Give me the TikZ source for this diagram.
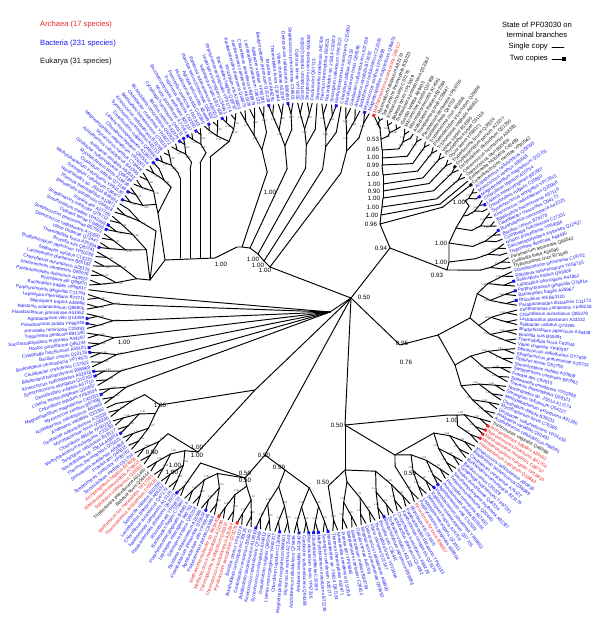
\documentclass[tikz,border=0pt]{standalone}
\usepackage{fontspec}
\setmainfont{Liberation Sans}
\usetikzlibrary{calc}

\definecolor{archred}{RGB}{240,40,40}
\definecolor{bactblue}{RGB}{25,25,240}
\definecolor{eukblack}{RGB}{20,20,20}

\tikzset{
  branch/.style={line width=0.95pt, line cap=round, line join=round},
  leaflabel/.style={inner sep=0pt, font=\fontsize{4.6}{4.6}\selectfont},
  support/.style={inner sep=0pt, font=\fontsize{6.2}{6.2}\selectfont},
  tinysup/.style={inner sep=0pt, font=\fontsize{2.5}{2.5}\selectfont, text=black!85},
  copymark/.style={fill, minimum size=2.9pt, inner sep=0pt},
  legendtext/.style={inner sep=0pt, font=\fontsize{7.6}{9.5}\selectfont}
}

\newcommand\rim{215}
\def\bactnames{{"Bacteroides fragilis","Pseudomonas putida","Burkholderia cenocepacia","Chlorobium tepidum","Clostridium difficile","Streptomyces coelicolor","Brucella suis","Rhizobium etli","Agrobacterium vitis","Bacillus cereus","Listeria monocytogenes","Mycobacterium bovis","Frankia alni","Thermobifida fusca","Parabacteroides distasonis","Flavobacterium johnsoniae","Cytophaga hutchinsonii","Desulfovibrio vulgaris","Geobacter sulfurreducens","Shewanella oneidensis","Vibrio cholerae","Xanthomonas campestris","Ralstonia solanacearum","Nostoc punctiforme","Synechococcus elongatus","Anabaena variabilis","Thermus thermophilus","Deinococcus radiodurans","Chloroflexus aurantiacus","Salinispora tropica","Saccharopolyspora erythraea","Kineococcus radiotolerans","Acidothermus cellulolyticus","Nocardioides sp. JS614","Streptococcus pneumoniae","Lactobacillus plantarum","Leptospira interrogans","Treponema denticola","Bdellovibrio bacteriovorus","Myxococcus xanthus","Sorangium cellulosum","Opitutus terrae","Solibacter usitatus","Porphyromonas gingivalis","Prevotella ruminicola","Caulobacter crescentus","Magnetospirillum magneticum","Methylobacterium extorquens","Sinorhizobium meliloti","Bradyrhizobium japonicum"}}
\def\archnames{{"Methanosarcina acetivorans","Methanococcus maripaludis","Archaeoglobus fulgidus","Pyrococcus furiosus","Thermococcus kodakarensis","Sulfolobus solfataricus","Methanospirillum hungatei","Haloarcula marismortui","Methanothermobacter sp.","Natronomonas pharaonis","Methanoculleus marisnigri","Thermoplasma acidophilum","Methanosaeta thermophila","Halobacterium salinarum","Pyrobaculum aerophilum","Aeropyrum pernix","Nitrosopumilus maritimus"}}
\def\euknames{{"Chlamydomonas reinhardtii","Arabidopsis thaliana","Oryza sativa","Physcomitrella patens","Thalassiosira pseudonana","Phaeodactylum tricornutum","Ostreococcus tauri","Plasmodium falciparum","Toxoplasma gondii","Trypanosoma brucei","Leishmania major","Giardia lamblia","Trichomonas vaginalis","Entamoeba histolytica","Tetrahymena thermophila","Paramecium tetraurelia","Cryptosporidium parvum","Naegleria gruberi","Micromonas pusilla","Volvox carteri","Cyanidioschyzon merolae","Emiliania huxleyi","Guillardia theta","Dictyostelium discoideum","Acanthamoeba castellanii","Monosiga brevicollis","Phytophthora sojae","Theileria parva","Babesia bovis","Trypanosoma cruzi","Ostreococcus lucimarinus"}}
\def\accpre{{"Q","A","B","C","YP","Q","A"}}

% colour and name list of leaf #1
\newcommand\setleafcolor[1]{%
  \def\lc{bactblue}\def\namelist{\bactnames}\def\nlen{50}%
  \ifnum#1<26 \def\lc{eukblack}\def\namelist{\euknames}\def\nlen{31}\fi
  \ifnum#1>41 \ifnum#1<45 \def\lc{eukblack}\def\namelist{\euknames}\def\nlen{31}\fi\fi
  \ifnum#1=77 \def\lc{eukblack}\def\namelist{\euknames}\def\nlen{31}\fi
  \ifnum#1>158 \ifnum#1<161 \def\lc{eukblack}\def\namelist{\euknames}\def\nlen{31}\fi\fi
  \ifnum#1=0 \def\lc{archred}\def\namelist{\archnames}\def\nlen{17}\fi
  \ifnum#1>77 \ifnum#1<83 \def\lc{archred}\def\namelist{\archnames}\def\nlen{17}\fi\fi
  \ifnum#1=100 \def\lc{archred}\def\namelist{\archnames}\def\nlen{17}\fi
  \ifnum#1>137 \ifnum#1<143 \def\lc{archred}\def\namelist{\archnames}\def\nlen{17}\fi\fi
  \ifnum#1>156 \ifnum#1<159 \def\lc{archred}\def\namelist{\archnames}\def\nlen{17}\fi\fi
  \ifnum#1>160 \ifnum#1<164 \def\lc{archred}\def\namelist{\archnames}\def\nlen{17}\fi\fi
}

% clade: #1 base node, #2..#3 leaves, #4 group size, #5 group depth, #6 fork depth
\newcommand\drawclade[6]{%
  \foreach \i in {#2,...,#3}{%
    \pgfmathtruncatemacro\pf{#2+2*floor((\i-#2)/2)}%
    \pgfmathtruncatemacro\pl{min(\pf+1,#3)}%
    \pgfmathtruncatemacro\qf{#2+4*floor((\i-#2)/4)}%
    \pgfmathtruncatemacro\ql{min(\qf+3,#3)}%
    \pgfmathtruncatemacro\gf{#2+#4*floor((\i-#2)/#4)}%
    \pgfmathtruncatemacro\gl{min(\gf+#4-1,#3)}%
    \ifnum\i=\gf
      \pgfmathsetmacro\ga{1.2903*(\gf+\gl)/2-70.5}%
      \pgfmathsetmacro\gr{\rim-#5}%
      \coordinate (gp\i) at ($(ctr)+(\ga:\gr)$);
      \draw[branch] (#1) -- (gp\i);
    \fi
    \ifnum\i=\qf
      \pgfmathsetmacro\qa{1.2903*(\qf+\ql)/2-70.5}%
      \pgfmathsetmacro\qr{\rim-#6}%
      \coordinate (qd\i) at ($(ctr)+(\qa:\qr)$);
      \draw[branch] (gp\gf) -- (qd\i);
      \ifnum\ql>\pl \node[tinysup] (sq\i) at ($(ctr)+(\qa:\qr-4)$) {1.00};\fi
    \fi
    \ifnum\i=\pf
      \pgfmathsetmacro\pa{1.2903*(\pf+\pl)/2-70.5}%
      \pgfmathsetmacro\pr{\rim-0.4*#6}%
      \coordinate (pr\i) at ($(ctr)+(\pa:\pr)$);
      \draw[branch] (qd\qf) -- (pr\i);
      \ifnum\pl>\pf \node[tinysup] (sv\i) at ($(ctr)+(\pa:\pr-4)$) {1.00};\fi
    \fi
    \draw[branch] (pr\pf) -- (tip\i);
  }%
}

\begin{document}
\begin{tikzpicture}[x=1pt, y=-1pt]
\useasboundingbox[fill=white] (0,0) rectangle (600,627);
\coordinate (ctr) at (302,318);

% leaves and their labels
\foreach \i in {0,...,278}{
  \pgfmathsetmacro\th{1.2903*\i-70.5}
  \pgfmathsetmacro\ph{-\th}
  \pgfmathsetmacro\lr{\rim+2.5}
  \coordinate (tip\i) at ($(ctr)+(\th:\rim)$);
  \setleafcolor{\i}
  \pgfmathtruncatemacro\k{mod(\i*7,\nlen)}
  \pgfmathparse{\namelist[\k]}\let\nm\pgfmathresult
  \pgfmathtruncatemacro\acca{mod(\i*37+35,89)+10}
  \pgfmathtruncatemacro\accb{mod(\i*53+17,900)+100}
  \pgfmathtruncatemacro\kp{mod(\i,7)}
  \pgfmathparse{\accpre[\kp]}\let\pre\pgfmathresult
  \pgfmathsetmacro\cs{cos(\th)}
  \ifdim\cs pt>0pt
    \node[leaflabel, text=\lc, anchor=west, rotate=\ph] (lb\i) at ($(ctr)+(\th:\lr)$) {\nm\ \pre\acca\accb};
  \else
    \node[leaflabel, text=\lc, anchor=east, rotate=\ph+180] (lb\i) at ($(ctr)+(\th:\lr)$) {\nm\ \pre\acca\accb};
  \fi
}

% backbone
\coordinate (root) at (351,298);
\coordinate (tn) at (390,248);
\coordinate (t93) at (447,270);
\coordinate (tb1) at (449,262);
\coordinate (tb2) at (449,243);
\coordinate (tb3) at (456,228);
\coordinate (tb4) at (463,216);
\coordinate (tb5) at (469,206);
\coordinate (bn) at (400,345);
\coordinate (b0) at (438,335);
\coordinate (ba) at (470,318);
\coordinate (bb) at (455,365);
\coordinate (c0) at (345,425);
\coordinate (c1) at (448,415);
\coordinate (c2) at (395,455);
\coordinate (c3) at (345,470);
\coordinate (d0) at (265,455);
\coordinate (d1) at (285,470);
\coordinate (d2) at (245,478);
\coordinate (e0) at (255,390);
\coordinate (e1) at (198,452);
\coordinate (e2) at (160,405);
\coordinate (fn) at (330,312);
\coordinate (k0) at (270,267);
\coordinate (k1) at (264,261);
\coordinate (k2) at (258,254);
\coordinate (k3) at (250,248);
\coordinate (k4) at (242,247);
\coordinate (g0) at (237,247);
\coordinate (gh) at (215,258);
\coordinate (gl) at (165,260);
\coordinate (gn) at (150,280);
\coordinate (hn) at (158,213);
\coordinate (kk0) at ($(ctr)+(285.0:150)$);
\coordinate (kk1) at ($(ctr)+(277.9:150)$);
\coordinate (kk2) at ($(ctr)+(271.4:150)$);
\coordinate (kk3) at ($(ctr)+(264.3:150)$);
\coordinate (kk4) at ($(ctr)+(256.6:150)$);
\foreach \v/\x/\y in {1/210/157, 2/200/163, 3/190/170, 4/180/178}{
  \coordinate (hv\v) at (\x,258);
  \coordinate (vt\v) at (\x,\y);
}

\draw[branch] (root) -- (tn);
\draw[branch] (tn) -- (t93) -- (tb1) -- (tb2) -- (tb3) -- (tb4) -- (tb5);
\draw[branch] (root) -- (bn) -- (b0) -- (ba);
\draw[branch] (b0) -- (bb);
\draw[branch] (root) -- (c0) -- (c1);
\draw[branch] (c0) -- (c2);
\draw[branch] (c0) -- (c3);
\draw[branch] (root) -- (d0) -- (d1);
\draw[branch] (d0) -- (d2);
\draw[branch] (root) -- (e0) -- (e1);
\draw[branch] (e0) -- (e2);
\draw[branch] (root) -- (fn);
\draw[branch] (root) -- (k0) -- (k1) -- (k2) -- (k3) -- (k4) -- (g0) -- (gh) -- (gl) -- (gn);
\draw[branch] (gl) -- (hn);
\foreach \v in {1,...,4}
  \draw[branch] (hv\v) -- (vt\v);
\draw[branch] (k0) -- (kk0);
\draw[branch] (k1) -- (kk1);
\draw[branch] (k2) -- (kk2);
\draw[branch] (k3) -- (kk3);
\draw[branch] (k4) -- (kk4);

% eukaryote ladder on the upper right
\foreach \s/\x/\y in {1/380/128, 2/381/139, 3/382/150, 4/382/158, 5/382/165, 6/383/175,
    7/383/184, 8/383/191, 9/383/198, 10/382/207, 11/381/215, 12/380/224}
  \coordinate (sp\s) at (\x,\y);
\draw[branch] (tip0) -- (sp1);
\foreach \s [evaluate=\s as \t using int(\s+1)] in {1,...,11}
  \draw[branch] (sp\s) -- (sp\t);
\draw[branch] (sp12) -- (tn);
\foreach \s/\la/\lb/\gd/\qd in {1/1/2/7/7, 2/3/6/14/10, 3/7/9/20/12, 4/10/11/22/12,
    5/12/13/25/12, 6/14/15/28/14, 7/16/17/30/14, 8/18/19/30/14, 9/20/21/32/16,
    10/22/23/35/16, 11/24/24/36/16, 12/25/25/36/16}{
  \drawclade{sp\s}{\la}{\lb}{8}{\gd}{\qd}
}

\drawclade{tb5}{26}{28}{4}{14}{10}
\drawclade{tb4}{29}{31}{4}{20}{12}
\drawclade{tb3}{32}{35}{4}{24}{14}
\drawclade{tb2}{36}{38}{4}{30}{16}
\drawclade{tb1}{39}{41}{4}{32}{18}
\drawclade{t93}{42}{44}{4}{30}{20}
\drawclade{ba}{45}{60}{8}{38}{26}
\drawclade{bb}{61}{76}{8}{42}{26}
\drawclade{c1}{77}{82}{8}{32}{26}
\drawclade{c2}{83}{100}{8}{40}{26}
\drawclade{c3}{101}{118}{8}{45}{26}
\drawclade{d1}{119}{134}{8}{45}{26}
\drawclade{d2}{135}{152}{8}{38}{26}
\drawclade{e1}{153}{164}{8}{38}{26}
\drawclade{e2}{165}{175}{8}{40}{26}
\drawclade{fn}{176}{200}{4}{40}{26}
\drawclade{gn}{201}{219}{8}{45}{26}
\drawclade{hn}{220}{230}{8}{30}{20}
\drawclade{vt4}{231}{234}{8}{24}{14}
\drawclade{vt3}{235}{238}{8}{24}{14}
\drawclade{vt2}{239}{242}{8}{24}{14}
\drawclade{vt1}{243}{250}{8}{24}{14}
\drawclade{kk4}{251}{256}{8}{42}{26}
\drawclade{kk3}{257}{262}{8}{42}{26}
\drawclade{kk2}{263}{267}{8}{42}{26}
\drawclade{kk1}{268}{272}{8}{42}{26}
\drawclade{kk0}{273}{278}{8}{42}{26}

% two copies of PF03030
\foreach \s in {0,20,25,28,30,36,47,49,51,78,79,80,81,94,95,107,119,121,122,123,125,129,134,138,142,145,152,169,178,182,183,187,188,193,194,209,213,214,220,222,230,231,237,238,239,241,244,247,257,261,271,277}{
  \setleafcolor{\s}
  \pgfmathsetmacro\ph{70.5-1.2903*\s}
  \node[copymark, fill=\lc, rotate=\ph] (cp\s) at (tip\s) {};
}

% support values
\foreach \x/\y/\v [count=\n] in {364/297/0.50, 253/259/1.00, 258/265/1.00, 265/270/1.00,
    221/264/1.00,
    373/139/0.53, 373/149/0.65, 373/157/1.00, 373/165/0.99, 373/174/1.00, 374/184/1.00,
    374/191/0.90, 374/198/1.00, 373/207/1.00, 372/215/1.00, 371/224/0.96, 381/248/0.94,
    441/243/1.00, 441/262/1.00, 437/275/0.93, 459/202/1.00,
    402/343/0.95, 406/362/0.76, 452/420/1.00, 337/425/0.50,
    410/473/0.50, 323/482/0.50, 264/455/0.50, 279/467/0.99, 245/473/0.50, 245/480/0.50,
    197/447/1.00, 197/455/1.00, 175/465/1.00, 172/472/1.00, 160/405/1.00, 152/452/0.50,
    124/342/1.00, 270/192/1.00}
  \node[support] (bs\n) at (\x,\y) {\v};

% legends
\node[legendtext, text=archred, anchor=west] (lgarch) at (40,25) {Archaea (17 species)};
\node[legendtext, text=bactblue, anchor=west] (lgbact) at (40,44) {Bacteria (231 species)};
\node[legendtext, text=eukblack, anchor=west] (lgeuk) at (40,62) {Eukarya (31 species)};
\node[legendtext, align=center] (lgstate) at (537,30) {State of PF03030 on\\terminal branches};
\node[legendtext, anchor=east] (lgsingle) at (548,47) {Single copy};
\node[legendtext, anchor=east] (lgtwo) at (548,59) {Two copies};
\coordinate (lgsa) at (552,47);
\coordinate (lgsb) at (564,47);
\coordinate (lgta) at (552,59);
\node[copymark, minimum size=3.6pt] (lgmark) at (564,59) {};
\draw[branch] (lgsa) -- (lgsb);
\draw[branch] (lgta) -- (lgmark);
\end{tikzpicture}
\end{document}
